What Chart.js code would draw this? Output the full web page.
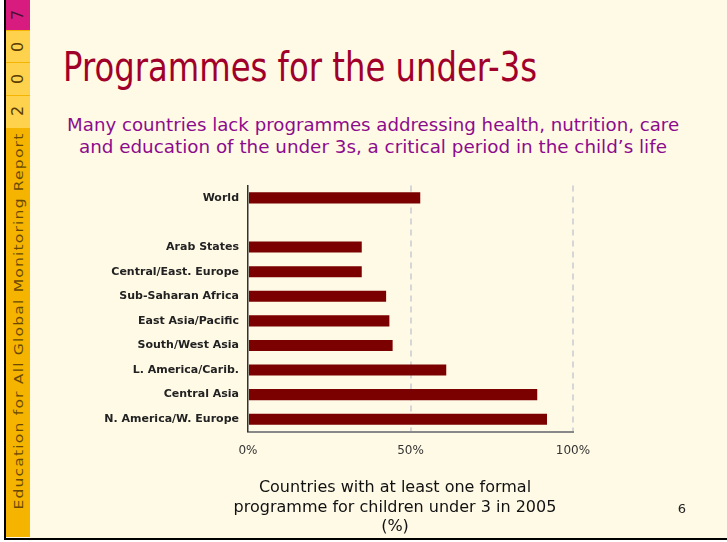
<!DOCTYPE html>
<html><head><meta charset="utf-8">
<script src="https://cdn.jsdelivr.net/npm/chart.js@4/dist/chart.umd.min.js"></script>
<style>
html,body{margin:0;padding:0;background:#fff;}
body{width:727px;height:542px;position:relative;overflow:hidden;font-family:"DejaVu Sans",sans-serif;}
.abs{position:absolute;}
#slide{left:4px;top:0;width:723px;height:540px;background:#FFFAE6;border-left:2px solid #000;border-bottom:2px solid #000;box-sizing:border-box;}
#stripe{left:6px;top:0;width:24px;height:537px;background:#F5B400;}
.box{left:6px;width:24px;background:#FFD24E;}
.digit{left:18px;font-size:16px;line-height:16px;color:#5C3D00;transform:translate(-50%,-50%) rotate(-90deg);white-space:nowrap;}
#stripeText{left:19px;top:321px;font-size:13px;line-height:20px;height:20px;color:#6B4A00;letter-spacing:1px;white-space:nowrap;width:max-content;}
#title{left:63px;top:47px;font-size:41px;line-height:41px;color:#A0002A;white-space:nowrap;transform-origin:0 0;}
.sub{left:0;width:746px;text-align:center;font-size:18px;line-height:22px;color:#8C0B8C;}
.sub span{display:inline-block;white-space:nowrap;transform-origin:50% 50%;}
#axTitle{left:195px;width:400px;top:477px;text-align:center;font-size:16px;line-height:19.5px;color:#111;}
#pg{left:672px;width:20px;top:501px;text-align:center;font-size:13px;line-height:16px;color:#222;}
#chartBox{left:60px;top:170px;width:560px;height:309px;}
</style></head>
<body>
<div id="slide" class="abs"></div>
<div id="stripe" class="abs"></div>
<div class="abs" style="left:6px;top:0;width:24px;height:30px;background:#D81B7E;"></div>
<div class="abs box" style="top:31px;height:31px;"></div>
<div class="abs box" style="top:63px;height:32px;"></div>
<div class="abs box" style="top:96px;height:32px;"></div>
<div class="abs digit" style="top:15px;color:#4A1030;">7</div>
<div class="abs digit" style="top:47px;">0</div>
<div class="abs digit" style="top:79px;">0</div>
<div class="abs digit" style="top:111px;">2</div>
<div id="stripeText" class="abs">Education for All Global Monitoring Report</div>

<div id="title" class="abs">Programmes for the under-3s</div>
<div class="abs sub" style="top:114px;"><span id="sub1">Many countries lack programmes addressing health, nutrition, care</span></div>
<div class="abs sub" style="top:136px;"><span id="sub2">and education of the under 3s, a critical period in the child’s life</span></div>

<div id="chartBox" class="abs"><canvas id="c" width="560" height="309"></canvas></div>

<div id="axTitle" class="abs">Countries with at least one formal<br>programme for children under 3 in 2005<br>(%)</div>
<div id="pg" class="abs">6</div>

<script>
// ---- data ----
const categories = ["World", "", "Arab States", "Central/East. Europe", "Sub-Saharan Africa",
  "East Asia/Pacific", "South/West Asia", "L. America/Carib.", "Central Asia", "N. America/W. Europe"];
const shares = [53, null, 35, 35, 42.5, 43.5, 44.5, 61, 89, 92];
const xTickValues = [0, 50, 100];

// ---- text fitting ----
function fitX(el, target) {
  const w = el.getBoundingClientRect().width;
  el.style.transform = 'scaleX(' + (target / w) + ')';
}
const t = document.getElementById('title');
t.style.display = 'inline-block';
fitX(t, 474);
fitX(document.getElementById('sub1'), 612);
fitX(document.getElementById('sub2'), 588);
const st = document.getElementById('stripeText');
const sw = st.getBoundingClientRect().width;
st.style.transform = 'translate(-50%,-50%) rotate(-90deg) scaleX(' + (377 / sw) + ')';

// ---- chart ----
new Chart(document.getElementById('c'), {
  type: 'bar',
  data: {
    labels: categories,
    datasets: [{
      data: shares,
      backgroundColor: '#7B0000',
      borderWidth: 0,
      barPercentage: 0.45,
      categoryPercentage: 1
    }]
  },
  options: {
    indexAxis: 'y',
    responsive: false,
    animation: false,
    devicePixelRatio: 1,
    layout: { padding: { top: 0, right: 47, bottom: 17.5, left: 0 } },
    plugins: { legend: { display: false }, tooltip: { enabled: false } },
    scales: {
      x: {
        type: 'linear', min: 0, max: 100,
        afterBuildTicks: s => { s.ticks = xTickValues.map(v => ({ value: v })); },
        afterFit: s => { s.height = 30; },
        ticks: {
          callback: v => v + '%',
          color: '#333',
          padding: 12,
          maxRotation: 0,
          font: { family: 'DejaVu Sans', size: 12 }
        },
        grid: {
          drawTicks: false,
          lineWidth: 2,
          color: ctx => (ctx.tick && ctx.tick.value === 0) ? 'rgba(0,0,0,0)' : '#D6D6D6'
        },
        border: { display: true, color: '#888', width: 2, dash: [6, 5] }
      },
      y: {
        afterFit: s => { s.width = 188; },
        ticks: {
          color: '#222',
          padding: 9,
          autoSkip: false,
          font: { family: 'DejaVu Sans', size: 11, weight: 'bold' }
        },
        grid: { display: false, drawTicks: false },
        border: { display: true, color: '#333', width: 1.5 }
      }
    }
  }
});
</script>
</body></html>
